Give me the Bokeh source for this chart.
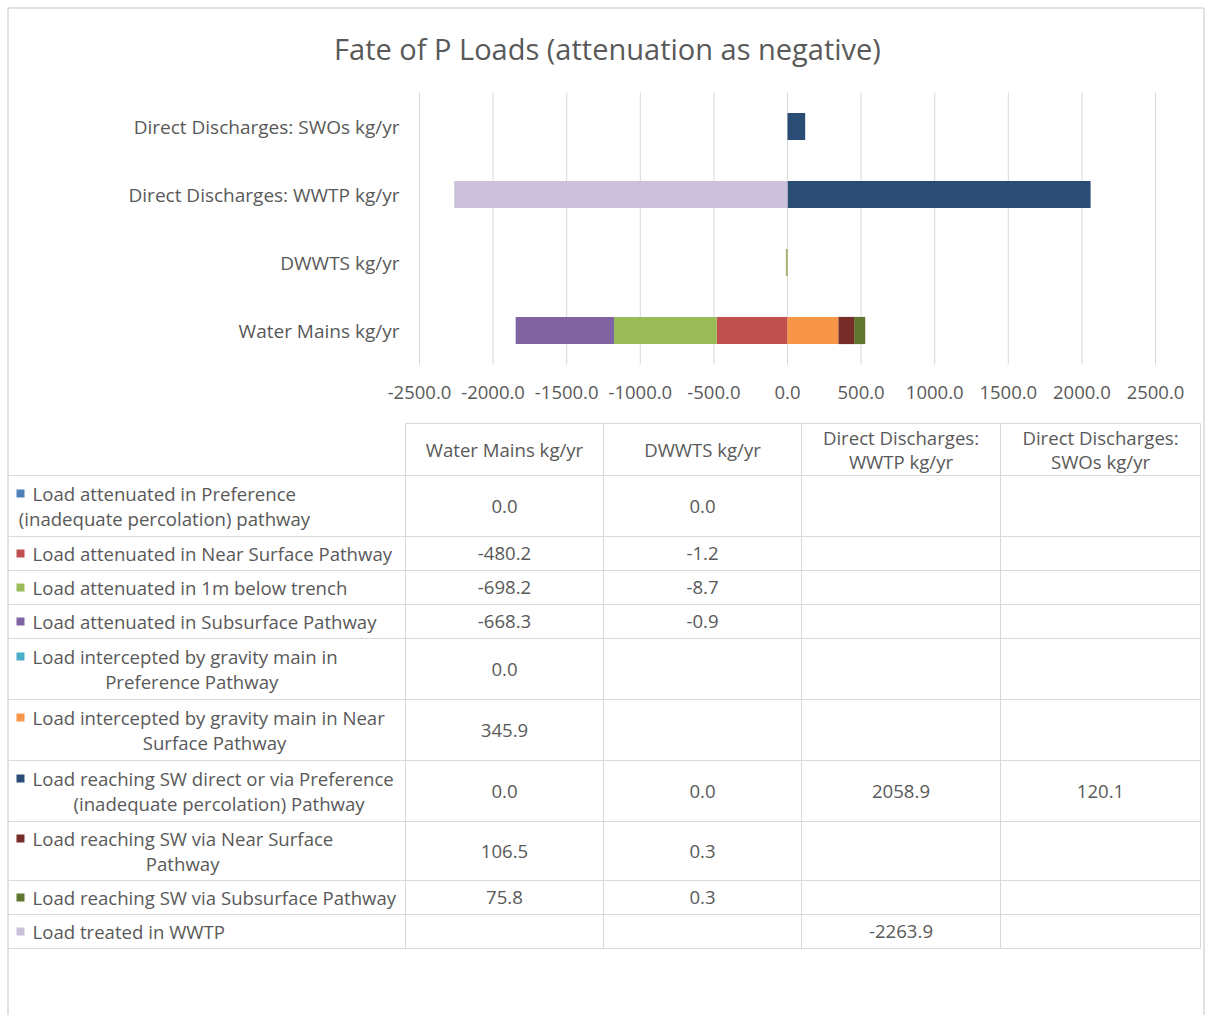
from bokeh.plotting import figure
from bokeh.models import Range1d
from bokeh.embed import file_html
from bokeh.resources import INLINE
from bokeh.core.properties import value

# ---------------- data ----------------
title_text = "Fate of P Loads (attenuation as negative)"

# category order as in the data table (first = bottom of chart)
categories = ["Water Mains kg/yr", "DWWTS kg/yr",
              "Direct Discharges: WWTP kg/yr", "Direct Discharges: SWOs kg/yr"]
header_lines = [["Water Mains kg/yr"], ["DWWTS kg/yr"],
                ["Direct Discharges:", "WWTP kg/yr"],
                ["Direct Discharges:", "SWOs kg/yr"]]

series_lines = [
    ["Load attenuated in Preference", "(inadequate percolation) pathway"],
    ["Load attenuated in Near Surface Pathway"],
    ["Load attenuated in 1m below trench"],
    ["Load attenuated in Subsurface Pathway"],
    ["Load intercepted by gravity main in", "Preference Pathway"],
    ["Load intercepted by gravity main in Near", "Surface Pathway"],
    ["Load reaching SW direct or via Preference", "(inadequate percolation) Pathway"],
    ["Load reaching SW via Near Surface", "Pathway"],
    ["Load reaching SW via Subsurface Pathway"],
    ["Load treated in WWTP"],
]
series_colors = ["#4F81BD", "#C0504D", "#9BBB59", "#8064A2", "#4BACC6",
                 "#F79646", "#2B4C74", "#772C2A", "#5F7530", "#CCC1DA"]

att_pref = [0.0, 0.0, None, None]
att_near = [-480.2, -1.2, None, None]
att_1m = [-698.2, -8.7, None, None]
att_sub = [-668.3, -0.9, None, None]
int_pref = [0.0, None, None, None]
int_near = [345.9, None, None, None]
sw_direct = [0.0, 0.0, 2058.9, 120.1]
sw_near = [106.5, 0.3, None, None]
sw_sub = [75.8, 0.3, None, None]
treated = [None, None, -2263.9, None]
series_values = [att_pref, att_near, att_1m, att_sub, int_pref,
                 int_near, sw_direct, sw_near, sw_sub, treated]

x_min, x_max = -2500, 2500
x_ticks = [-2500, -2000, -1500, -1000, -500, 0, 500, 1000, 1500, 2000, 2500]

# ---------------- style / layout (page pixels) ----------------
FONT = "Open Sans"
TXT = "#595959"
GRID = "#d9d9d9"
W, H = 1205, 1015
X0, Y0 = 0, 0                  # canvas origin on the page
X1, Y1 = X0 + W, Y0 + H
BOX_L, BOX_T, BOX_R = 7.5, 7.5, 1203.5   # chart-area border
PLOT_L, PLOT_R = 419, 1155     # bar plot area
PLOT_T, PLOT_B = 92, 364
BAND = (PLOT_B - PLOT_T) / len(categories)

# value range mapped so that x_min..x_max spans PLOT_L..PLOT_R
k = (x_max - x_min) / (PLOT_R - PLOT_L)
val_range = Range1d(x_min - (PLOT_L - X0) * k, x_max + (X1 - PLOT_R) * k)
# category index range: index i centred in band i counted from the bottom
c0 = PLOT_B - BAND / 2
cat_range = Range1d((c0 - Y1) / BAND, (c0 - Y0) / BAND)

p = figure(width=W, height=H, x_range=Range1d(X0, X1), y_range=Range1d(Y1, Y0),
           toolbar_location=None, output_backend="svg", min_border=0,
           x_axis_location=None, y_axis_location=None, outline_line_color=None)
p.extra_x_ranges = {"val": val_range}
p.extra_y_ranges = {"cat": cat_range}
p.grid.visible = False

# chart-area border
p.segment(x0=[BOX_L, BOX_L, BOX_R], y0=[BOX_T, BOX_T, BOX_T],
          x1=[BOX_R, BOX_L, BOX_R], y1=[BOX_T, Y1, Y1],
          line_color=GRID, line_width=1.5)

# title
p.text(x=[607], y=[48], text=[title_text], text_font=value(FONT),
       text_font_size="29px", text_color=TXT, text_align="center",
       text_baseline="middle")

# vertical gridlines at ticks
p.segment(x0=x_ticks, x1=x_ticks, y0=[PLOT_T] * len(x_ticks), y1=[PLOT_B] * len(x_ticks),
          x_range_name="val", line_color=GRID, line_width=1)

# stacked bars (positives stack right, negatives stack left)
pos = [0.0] * len(categories)
neg = [0.0] * len(categories)
for vals, col in zip(series_values, series_colors):
    ys, ls, rs = [], [], []
    for i, v in enumerate(vals):
        if v is None:
            continue
        if v >= 0:
            l, r = pos[i], pos[i] + v
            pos[i] = r
        else:
            l, r = neg[i] + v, neg[i]
            neg[i] = l
        ys.append(i); ls.append(l); rs.append(r)
    if ys:
        p.hbar(y=ys, left=ls, right=rs, height=0.4, fill_color=col, line_color=None,
               x_range_name="val", y_range_name="cat")

# category axis labels
p.text(x=[PLOT_L - 20] * len(categories), y=list(range(len(categories))), text=categories,
       y_range_name="cat", text_font=value(FONT), text_font_size="19px",
       text_color=TXT, text_align="right", text_baseline="middle")

# value axis labels
p.text(x=x_ticks, y=[PLOT_B + 28] * len(x_ticks), text=[f"{t:.1f}" for t in x_ticks],
       x_range_name="val", text_font=value(FONT), text_font_size="18.5px",
       text_color=TXT, text_align="center", text_baseline="middle")

# ---------------- data table ----------------
col_edges = [405, 603, 801, 1000, 1200]
tab_top, head_bot = 423, 475
row_h = [61, 34, 34, 34, 61, 61, 61, 59, 34, 34]
row_edges = [head_bot]
for h in row_h:
    row_edges.append(row_edges[-1] + h)

x0s, y0s, x1s, y1s = [col_edges[0]], [tab_top], [col_edges[-1]], [tab_top]
for y in row_edges:
    x0s.append(BOX_L); x1s.append(col_edges[-1]); y0s.append(y); y1s.append(y)
for x in col_edges:
    x0s.append(x); x1s.append(x); y0s.append(tab_top); y1s.append(row_edges[-1])
p.segment(x0=x0s, y0=y0s, x1=x1s, y1=y1s, line_color=GRID, line_width=1)

# column headers
hx, hy, ht = [], [], []
for j, lines in enumerate(header_lines):
    cx = (col_edges[j] + col_edges[j + 1]) / 2
    cy = (tab_top + head_bot) / 2
    n = len(lines)
    for kk, t in enumerate(lines):
        hx.append(cx); hy.append(cy + (kk - (n - 1) / 2) * 24); ht.append(t)
p.text(x=hx, y=hy, text=ht, text_font=value(FONT), text_font_size="18.6px",
       text_color=TXT, text_align="center", text_baseline="middle")

# cell values
vx, vy, vt = [], [], []
for s, vals in enumerate(series_values):
    cy = (row_edges[s] + row_edges[s + 1]) / 2
    for j, v in enumerate(vals):
        if v is None:
            continue
        vx.append((col_edges[j] + col_edges[j + 1]) / 2); vy.append(cy)
        vt.append(f"{v:.1f}")
p.text(x=vx, y=vy, text=vt, text_font=value(FONT), text_font_size="18.6px",
       text_color=TXT, text_align="center", text_baseline="middle")

# legend keys and series labels
kx, ky, kc = [], [], []
lx, ly, lt, la = [], [], [], []
CW = 9.1
for s, lines in enumerate(series_lines):
    cy = (row_edges[s] + row_edges[s + 1]) / 2
    n = len(lines)
    first_y = cy - (n - 1) / 2 * 25
    kx.append(20); ky.append(first_y); kc.append(series_colors[s])
    block_c = 32 + len(lines[0]) * CW / 2
    for kk, t in enumerate(lines):
        if kk == 0:
            lx.append(32); la.append("left")
        else:
            lx.append(block_c); la.append("center")
        ly.append(first_y + kk * 25); lt.append(t)
p.rect(x=kx, y=ky, width=8, height=8, fill_color=kc, line_color=None)
p.text(x=lx, y=ly, text=lt, text_align=la, text_font=value(FONT),
       text_font_size="18.6px", text_color=TXT, text_baseline="middle")

open("out.html", "w").write(file_html(p, INLINE))
